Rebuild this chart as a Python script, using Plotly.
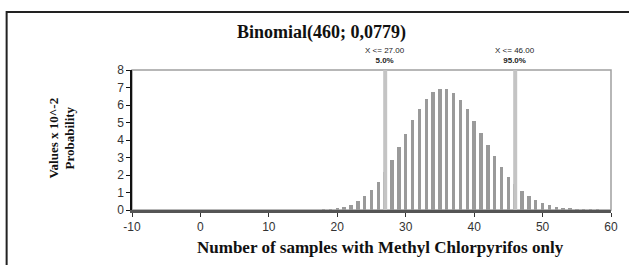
import plotly.graph_objects as go

# Number of samples (k) and probability values (x 10^-2)
k_values = list(range(18, 59))
prob_x100 = [
    0.029, 0.056, 0.105, 0.185, 0.313, 0.503, 0.774, 1.140, 1.611, 2.188,  # 18-27
    2.858, 3.597, 4.366, 5.116, 5.794, 6.348, 6.735, 6.926, 6.907, 6.687,  # 28-37
    6.288, 5.748, 5.111, 4.423, 3.728, 3.062, 2.451, 1.914, 1.459, 1.086,  # 38-47
    0.789, 0.561, 0.389, 0.264, 0.176, 0.114, 0.073, 0.045, 0.028, 0.017,  # 48-57
    0.010,                                                                 # 58
]
delimiters = [27, 46]
delim_labels = ["X <= 27.00", "X <= 46.00"]
delim_pcts = ["5.0%", "95.0%"]
x_ticks = [-10, 0, 10, 20, 30, 40, 50, 60]
y_ticks = [0, 1, 2, 3, 4, 5, 6, 7, 8]

W, H = 629, 265
L, R, T, B = 131.5, 18, 70, 55
pw = W - L - R
ph = H - T - B

def px_to_paper_x(px):
    return (px - L) / pw

def px_to_paper_y(py):
    return (H - B - py) / ph

fig = go.Figure()
fig.add_trace(go.Bar(
    x=k_values, y=prob_x100, width=0.5,
    marker=dict(color="#9a9a9a", line=dict(width=0)),
    hoverinfo="x+y",
))

shapes = []
# gray plot-area box
shapes.append(dict(type="rect", xref="paper", yref="paper", x0=0, y0=0, x1=1, y1=1,
                   line=dict(color="#a0a0a0", width=1.5), layer="below"))
# outer frame
shapes.append(dict(type="rect", xref="paper", yref="paper",
                   x0=px_to_paper_x(6), y0=px_to_paper_y(290),
                   x1=px_to_paper_x(660), y1=px_to_paper_y(12),
                   line=dict(color="#222222", width=2), layer="above"))
for d in delimiters:
    shapes.append(dict(type="line", xref="x", yref="paper", x0=d, x1=d, y0=0, y1=1,
                       line=dict(color="#c4c4c4", width=4), layer="above"))

annotations = []
annotations.append(dict(text="<b>Binomial(460; 0,0779)</b>", xref="paper", yref="paper",
                        x=px_to_paper_x(321), y=px_to_paper_y(32), showarrow=False,
                        xanchor="center", yanchor="middle",
                        font=dict(family="Liberation Serif", size=18, color="#111")))
annotations.append(dict(text="<b>Number of samples with Methyl Chlorpyrifos only</b>",
                        xref="paper", yref="paper",
                        x=px_to_paper_x(380), y=px_to_paper_y(247), showarrow=False,
                        xanchor="center", yanchor="middle",
                        font=dict(family="Liberation Serif", size=17, color="#111")))
annotations.append(dict(text="<b>Values x 10^-2<br>Probability</b>", xref="paper", yref="paper",
                        x=px_to_paper_x(61), y=px_to_paper_y(138), showarrow=False,
                        xanchor="center", yanchor="middle", textangle=-90,
                        font=dict(family="Liberation Serif", size=13, color="#111")))
for d, lab, pct in zip(delimiters, delim_labels, delim_pcts):
    annotations.append(dict(text=lab + "<br><b>" + pct + "</b>", xref="x", yref="paper",
                            x=d, y=px_to_paper_y(56),
                            showarrow=False, xanchor="center", yanchor="middle",
                            font=dict(family="Liberation Sans", size=8, color="#222")))

fig.update_layout(
    width=W, height=H,
    margin=dict(l=L, r=R, t=T, b=B, pad=0),
    paper_bgcolor="white", plot_bgcolor="white",
    showlegend=False,
    bargap=0,
    shapes=shapes,
    annotations=annotations,
    font=dict(family="Liberation Sans", size=12, color="#333"),
)
fig.update_xaxes(
    range=[-10, 60], tickvals=x_ticks, ticktext=[str(v) for v in x_ticks],
    showgrid=False, zeroline=False,
    showline=True, linecolor="#555555", linewidth=2.5,
    ticks="outside", ticklen=4, tickcolor="#333", tickwidth=1,
    tickfont=dict(family="Liberation Sans", size=12, color="#333"),
)
fig.update_yaxes(
    range=[0, 8], tickvals=y_ticks, ticktext=[str(v) for v in y_ticks],
    showgrid=False, zeroline=False,
    showline=True, linecolor="#111111", linewidth=1.5,
    ticks="outside", ticklen=4, tickcolor="#111", tickwidth=1,
    tickfont=dict(family="Liberation Sans", size=12, color="#333"),
)

fig.write_html("out.html", config={"displayModeBar": False},
               post_script="document.body.style.margin='0';")
